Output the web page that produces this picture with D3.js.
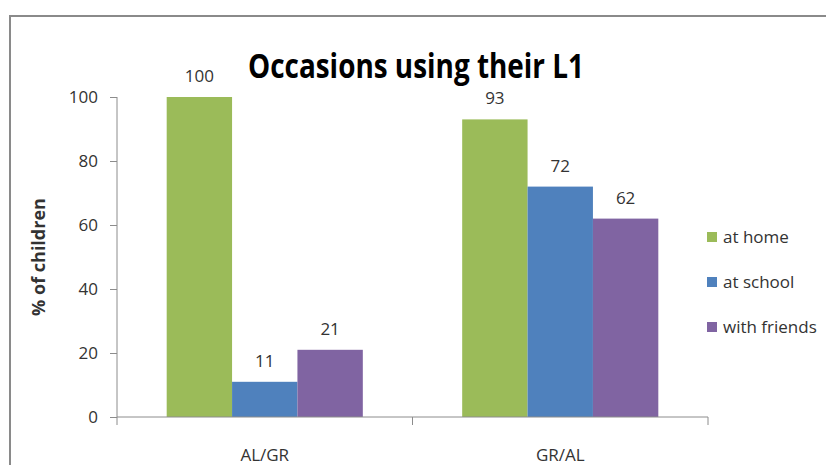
<!DOCTYPE html>
<meta charset="utf-8">
<style>
body { margin: 0; background: #fff; }
text { font-family: "Open Sans", sans-serif; fill: #333; }
.axis path, .axis line { stroke: #8c8c8c; }
.axis text { font-size: 17px; fill: #333; }
</style>
<svg width="826" height="465"></svg>
<script src="https://d3js.org/d3.v7.min.js"></script>
<script>

var categories = ["AL/GR", "GR/AL"];
var seriesNames = ["at home", "at school", "with friends"];
var atHome = [100, 93];
var atSchool = [11, 72];
var withFriends = [21, 62];
var yTicks = [0, 20, 40, 60, 80, 100];
var colors = ["#9bbb59", "#4f81bd", "#8064a2"];

var data = categories.map(function(c, i) {
  return {cat: c, vals: [atHome[i], atSchool[i], withFriends[i]]};
});

var svg = d3.select("svg"),
    margin = {top: 97, left: 117, right: 118, bottom: 48},
    width = 826 - margin.left - margin.right,
    height = 465 - margin.top - margin.bottom;

// chart frame
svg.append("path")
    .attr("d", "M10,466V16H827")
    .attr("fill", "none")
    .attr("stroke", "#8a8a8a")
    .attr("stroke-width", 2);

var x0 = d3.scaleBand().domain(categories).range([0, width]);
var x1 = d3.scaleBand().domain(seriesNames).range([0, x0.bandwidth()])
    .paddingInner(0).paddingOuter(0.76);
var y = d3.scaleLinear().domain([0, 100]).range([height, 0]);

var g = svg.append("g")
    .attr("transform", "translate(" + margin.left + "," + margin.top + ")");

g.append("g")
    .attr("class", "axis axis--y")
    .call(d3.axisLeft(y).tickValues(yTicks).tickSize(7).tickPadding(12))
    .call(function(s) { s.select(".domain").attr("d", "M0," + (height + 8) + "V0"); });

var groups = g.selectAll(".grp")
  .data(data)
  .enter().append("g")
    .attr("class", "grp")
    .attr("transform", function(d) { return "translate(" + x0(d.cat) + ",0)"; });

groups.selectAll("rect")
  .data(function(d) { return d.vals.map(function(v, i) { return {s: seriesNames[i], v: v, i: i}; }); })
  .enter().append("rect")
    .attr("x", function(d) { return x1(d.s); })
    .attr("y", function(d) { return y(d.v); })
    .attr("width", x1.bandwidth())
    .attr("height", function(d) { return height - y(d.v); })
    .attr("fill", function(d) { return colors[d.i]; });

groups.selectAll(".lbl")
  .data(function(d) { return d.vals.map(function(v, i) { return {s: seriesNames[i], v: v}; }); })
  .enter().append("text")
    .attr("class", "lbl")
    .attr("x", function(d) { return x1(d.s) + x1.bandwidth() / 2; })
    .attr("y", function(d) { return y(d.v) - 15; })
    .attr("text-anchor", "middle")
    .style("font-size", "17px")
    .text(function(d) { return d.v; });

var xAxis = g.append("g")
    .attr("class", "axis axis--x")
    .attr("transform", "translate(0," + height + ")")
    .call(d3.axisBottom(x0).tickSize(0).tickPadding(32));
xAxis.select(".domain").attr("d", "M0,0H" + width + "V8");
xAxis.append("line")
    .attr("x1", x0.step()).attr("x2", x0.step())
    .attr("y1", 0).attr("y2", 8);

g.append("text")
    .attr("transform", "translate(-72," + (height / 2) + ") rotate(-90)")
    .attr("text-anchor", "middle")
    .style("font-size", "18px")
    .style("font-weight", "bold")
    .text("% of children");

svg.append("text")
    .attr("x", 416)
    .attr("y", 78)
    .attr("text-anchor", "middle")
    .attr("textLength", 336)
    .attr("lengthAdjust", "spacingAndGlyphs")
    .style("font-size", "34px")
    .style("font-weight", "bold")
    .style("fill", "#000")
    .text("Occasions using their L1");

var legend = svg.selectAll(".legend")
  .data(seriesNames)
  .enter().append("g")
    .attr("class", "legend")
    .attr("transform", function(d, i) { return "translate(707," + (237 + i * 45) + ")"; });

legend.append("rect")
    .attr("x", 0).attr("y", -5)
    .attr("width", 10).attr("height", 10)
    .attr("fill", function(d, i) { return colors[i]; });

legend.append("text")
    .attr("x", 16)
    .attr("dy", "0.35em")
    .style("font-size", "17px")
    .text(function(d) { return d; });

</script>
